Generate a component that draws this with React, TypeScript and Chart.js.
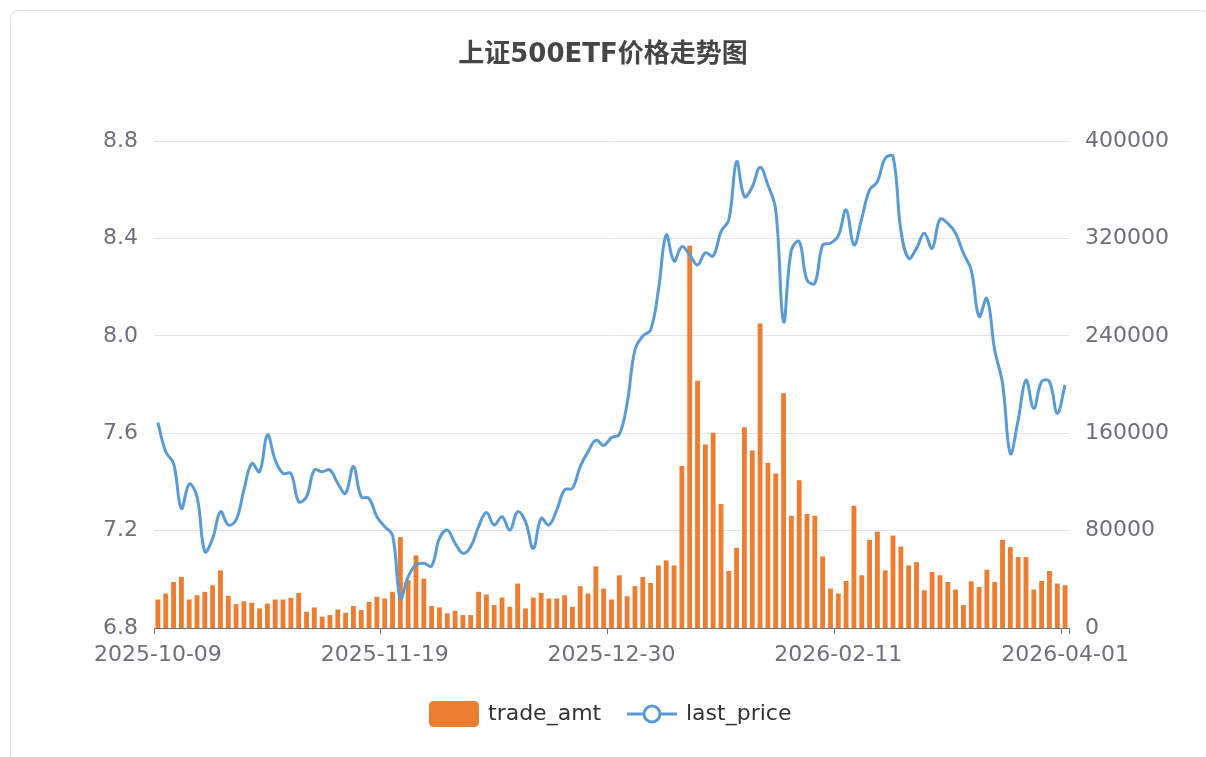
import React, { useEffect, useRef } from "react";
import { Chart, registerables } from "chart.js";

Chart.register(...registerables);

const TITLE = "上证500ETF价格走势图";

const dates: string[] = [
  "2025-10-09", "2025-10-10", "2025-10-13", "2025-10-14", "2025-10-15", "2025-10-16", "2025-10-17",
  "2025-10-20", "2025-10-21", "2025-10-22", "2025-10-23", "2025-10-24", "2025-10-27", "2025-10-28",
  "2025-10-29", "2025-10-30", "2025-10-31",
  "2025-11-03", "2025-11-04", "2025-11-05", "2025-11-06", "2025-11-07", "2025-11-10", "2025-11-11",
  "2025-11-12", "2025-11-13", "2025-11-14", "2025-11-17", "2025-11-18", "2025-11-19", "2025-11-20",
  "2025-11-21", "2025-11-24", "2025-11-25", "2025-11-26", "2025-11-27", "2025-11-28",
  "2025-12-01", "2025-12-02", "2025-12-03", "2025-12-04", "2025-12-05", "2025-12-08", "2025-12-09",
  "2025-12-10", "2025-12-11", "2025-12-12", "2025-12-15", "2025-12-16", "2025-12-17", "2025-12-18",
  "2025-12-19", "2025-12-22", "2025-12-23", "2025-12-24", "2025-12-25", "2025-12-26", "2025-12-29",
  "2025-12-30", "2025-12-31",
  "2026-01-05", "2026-01-06", "2026-01-07", "2026-01-08", "2026-01-09", "2026-01-12", "2026-01-13",
  "2026-01-14", "2026-01-15", "2026-01-16", "2026-01-19", "2026-01-20", "2026-01-21", "2026-01-22",
  "2026-01-23", "2026-01-26", "2026-01-27", "2026-01-28", "2026-01-29", "2026-01-30",
  "2026-02-02", "2026-02-03", "2026-02-04", "2026-02-05", "2026-02-06", "2026-02-09", "2026-02-10",
  "2026-02-11", "2026-02-12", "2026-02-13", "2026-02-24", "2026-02-25", "2026-02-26", "2026-02-27",
  "2026-03-02", "2026-03-03", "2026-03-04", "2026-03-05", "2026-03-06", "2026-03-09", "2026-03-10",
  "2026-03-11", "2026-03-12", "2026-03-13", "2026-03-16", "2026-03-17", "2026-03-18", "2026-03-19",
  "2026-03-20", "2026-03-23", "2026-03-24", "2026-03-25", "2026-03-26", "2026-03-27", "2026-03-30",
  "2026-03-31", "2026-04-01",
];

const tradeAmt: number[] = [
  23400, 28300, 37800, 41900, 23400, 26900, 29700, 35100, 47300, 26400,
  19600, 22000, 20700, 16100, 20100, 23400, 23400, 24800, 28800, 13300,
  16900, 9300, 10600, 15200, 12500, 18000, 14700, 21500, 25600, 24200,
  29700, 74600, 39200, 59600, 40500, 18000, 16900, 12000, 14100, 10600,
  10600, 29700, 27500, 18800, 25000, 17400, 36500, 16100, 25000, 28800,
  24200, 24200, 26900, 17400, 34300, 28300, 50600, 32400, 23400, 43300,
  26100, 34300, 41900, 37000, 51400, 55500, 51400, 133100, 314000, 203000,
  150700, 160300, 101800, 46800, 65900, 164900, 145800, 250100, 135800, 126800,
  192900, 92200, 121400, 93600, 92200, 58800, 32400, 28300, 38600, 100400,
  43300, 72400, 79200, 47300, 75900, 66900, 51400, 54100, 31000, 46000,
  43300, 37800, 31600, 18800, 38400, 33700, 47900, 37800, 72400, 66400,
  58200, 58200, 31600, 38600, 46800, 36500, 35100,
];

const lastPrice: number[] = [
  7.643, 7.524, 7.476, 7.291, 7.391, 7.339, 7.114, 7.168, 7.278, 7.223,
  7.244, 7.367, 7.476, 7.442, 7.593, 7.49, 7.435, 7.435, 7.319, 7.339,
  7.449, 7.442, 7.449, 7.394, 7.353, 7.463, 7.339, 7.332, 7.257, 7.216,
  7.182, 6.922, 7.011, 7.059, 7.066, 7.055, 7.168, 7.202, 7.148, 7.107,
  7.134, 7.216, 7.274, 7.223, 7.257, 7.202, 7.278, 7.237, 7.127, 7.25,
  7.223, 7.285, 7.367, 7.374, 7.463, 7.524, 7.572, 7.55, 7.582, 7.595,
  7.723, 7.942, 7.999, 8.024, 8.188, 8.414, 8.307, 8.366, 8.332, 8.291,
  8.341, 8.328, 8.428, 8.476, 8.715, 8.571, 8.612, 8.692, 8.619, 8.517,
  8.058, 8.352, 8.387, 8.229, 8.216, 8.373, 8.38, 8.41, 8.517, 8.373,
  8.482, 8.599, 8.633, 8.729, 8.736, 8.434, 8.318, 8.359, 8.421, 8.359,
  8.478, 8.462, 8.421, 8.339, 8.27, 8.079, 8.154, 7.942, 7.805, 7.517,
  7.654, 7.818, 7.702, 7.812, 7.812, 7.682, 7.798,
];

const LABEL_STEP = 29;
const LEFT_MIN = 6.8;
const LEFT_MAX = 8.8;
const LEFT_STEP = 0.4;
const RIGHT_MIN = 0;
const RIGHT_MAX = 400000;
const RIGHT_STEP = 80000;

const BAR_COLOR = "#ED7D31";
const LINE_COLOR = "#5B9BD5";
const AXIS_TEXT = "#6E7079";
const FONT = '"DejaVu Sans", "Noto Sans CJK SC", sans-serif';

const legendPlugin = {
  id: "customLegend",
  afterDraw(chart: any) {
    const ctx = chart.ctx;
    const cy = 714;
    ctx.save();
    const rx = 429, ry = 701, rw = 50, rh = 26, r = 5;
    ctx.fillStyle = BAR_COLOR;
    ctx.beginPath();
    ctx.moveTo(rx + r, ry);
    ctx.lineTo(rx + rw - r, ry);
    ctx.quadraticCurveTo(rx + rw, ry, rx + rw, ry + r);
    ctx.lineTo(rx + rw, ry + rh - r);
    ctx.quadraticCurveTo(rx + rw, ry + rh, rx + rw - r, ry + rh);
    ctx.lineTo(rx + r, ry + rh);
    ctx.quadraticCurveTo(rx, ry + rh, rx, ry + rh - r);
    ctx.lineTo(rx, ry + r);
    ctx.quadraticCurveTo(rx, ry, rx + r, ry);
    ctx.closePath();
    ctx.fill();
    ctx.font = `22px ${FONT}`;
    ctx.fillStyle = "#333333";
    ctx.textBaseline = "middle";
    ctx.textAlign = "left";
    ctx.fillText("trade_amt", 488, cy);
    ctx.strokeStyle = LINE_COLOR;
    ctx.lineWidth = 3;
    ctx.beginPath();
    ctx.moveTo(627, cy);
    ctx.lineTo(677, cy);
    ctx.stroke();
    ctx.beginPath();
    ctx.arc(652, cy, 8, 0, Math.PI * 2);
    ctx.fillStyle = "#ffffff";
    ctx.fill();
    ctx.stroke();
    ctx.fillStyle = "#333333";
    ctx.fillText("last_price", 686, cy);
    ctx.restore();
  },
};

export default function App() {
  const ref = useRef<HTMLCanvasElement | null>(null);

  useEffect(() => {
    if (!ref.current) return;
    const chart = new Chart(ref.current, {
      type: "bar",
      data: {
        labels: dates,
        datasets: [
          {
            type: "bar",
            label: "trade_amt",
            data: tradeAmt,
            yAxisID: "y1",
            backgroundColor: BAR_COLOR,
            borderWidth: 0,
            categoryPercentage: 1,
            barPercentage: 0.62,
            order: 1,
          },
          {
            type: "line",
            label: "last_price",
            data: lastPrice,
            yAxisID: "y",
            borderColor: LINE_COLOR,
            backgroundColor: LINE_COLOR,
            borderWidth: 3,
            pointRadius: 0,
            tension: 0.4,
            fill: false,
            order: 0,
          },
        ] as any,
      },
      options: {
        responsive: false,
        animation: false,
        devicePixelRatio: 1,
        layout: { padding: 0 },
        plugins: {
          legend: { display: false },
          tooltip: { enabled: false },
          title: {
            display: true,
            text: TITLE,
            color: "#464646",
            font: { family: FONT, size: 26, weight: "bold" },
            padding: { top: 40, bottom: 69.8 },
          },
        },
        scales: {
          x: {
            type: "category",
            offset: true,
            grid: {
              display: true,
              offset: true,
              drawOnChartArea: false,
              drawTicks: true,
              tickLength: 6,
              color: (c: any) =>
                c.index === undefined || c.index % LABEL_STEP === 0 ? AXIS_TEXT : "rgba(0,0,0,0)",
            },
            border: { display: true, color: AXIS_TEXT, width: 1 },
            ticks: {
              autoSkip: false,
              maxRotation: 0,
              minRotation: 0,
              padding: 8,
              color: AXIS_TEXT,
              font: { family: FONT, size: 22 },
              callback: (_v: any, i: number) => (i % LABEL_STEP === 0 ? dates[i] : ""),
            },
            afterFit: (s: any) => {
              s.height = 129;
            },
          },
          y: {
            type: "linear",
            position: "left",
            min: LEFT_MIN,
            max: LEFT_MAX,
            grid: { color: "#E0E6F1", drawTicks: false, lineWidth: 1 },
            border: { display: false },
            ticks: {
              stepSize: LEFT_STEP,
              padding: 16,
              color: AXIS_TEXT,
              font: { family: FONT, size: 22 },
              callback: (v: any) => Number(v).toFixed(1),
            },
            afterFit: (s: any) => {
              s.width = 154;
            },
          },
          y1: {
            type: "linear",
            position: "right",
            min: RIGHT_MIN,
            max: RIGHT_MAX,
            grid: { display: false, drawTicks: false },
            border: { display: false },
            ticks: {
              stepSize: RIGHT_STEP,
              padding: 16,
              color: AXIS_TEXT,
              font: { family: FONT, size: 22 },
              callback: (v: any) => String(v),
            },
            afterFit: (s: any) => {
              s.width = 137;
            },
          },
        },
      } as any,
      plugins: [legendPlugin],
    });
    return () => chart.destroy();
  }, []);

  return (
    <div
      style={{
        position: "fixed",
        left: 0,
        top: 0,
        width: 1206,
        height: 757,
        overflow: "hidden",
        background: "#ffffff",
      }}
    >
      <div
        style={{
          position: "absolute",
          left: 10,
          top: 10,
          width: 1200,
          height: 800,
          border: "1px solid #E3E3E3",
          borderRadius: 8,
          boxSizing: "border-box",
        }}
      />
      <canvas
        ref={ref}
        width={1206}
        height={757}
        style={{ position: "absolute", left: 0, top: 0, width: 1206, height: 757 }}
      />
    </div>
  );
}
